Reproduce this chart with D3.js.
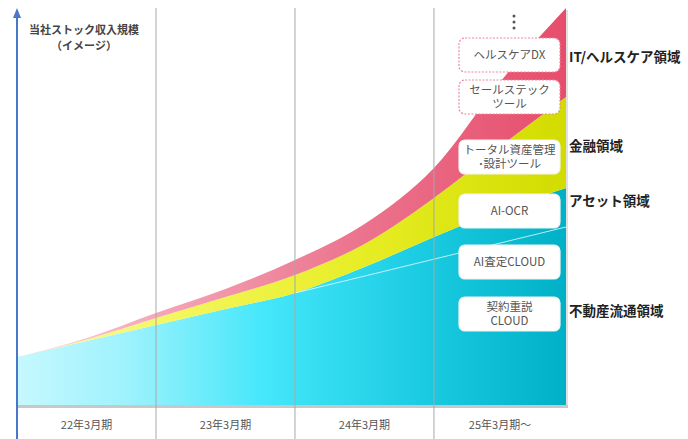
<!DOCTYPE html>
<html lang="ja">
    <head>
        <meta charset="utf-8">
        <title>当社ストック収入規模</title>
        <script type="text/javascript" src="https://cdn.jsdelivr.net/npm/d3@7"></script>
        <style>
            body { margin: 0; background: #fff; }
            text { font-family: "Noto Sans CJK JP", "Noto Sans", sans-serif; }
        </style>
    </head>
    <body>
        <script type="text/javascript">
            // time points (period index), last one = right edge of 25年3月期～
            var periods = ["22年3月期", "23年3月期", "24年3月期", "25年3月期～"];
            var bounds = [0, 1, 2, 3, 3.95];
            var t = [0, 0.5, 1, 1.5, 2, 2.5, 3, 3.5, 3.95];
            // stacked layers, bottom to top (image units)
            var realEstate = [12, 16, 20, 24, 28, 34.5, 42, 49, 54.25];
            var finance    = [0, 0.4, 1.75, 3, 4.5, 5.75, 9.75, 16.25, 22.75];
            var itHealth   = [0, 0.3, 1.25, 2, 3.75, 5, 7.5, 16.5, 22.25];
            // faint trend line inside the bottom layer
            var trendT = [2, 3.95];
            var trendV = [28, 44.5];
            var domains = ["IT/ヘルスケア領域", "金融領域", "アセット領域", "不動産流通領域"];
            var products = ["ヘルスケアDX", "セールステック\nツール", "トータル資産管理\n･設計ツール",
                            "AI-OCR", "AI査定CLOUD", "契約重説\nCLOUD"];

            var w = 688;
            var h = 439;

            var svg = d3.select("body").append("svg")
                .attr("width", w)
                .attr("height", h);

            var x = d3.scaleLinear().domain([0, 3.95]).range([17, 566]);
            var y = d3.scaleLinear().domain([0, 100]).range([405, 5]);

            var rows = t.map(function(d, i) {
                return { t: d, re: realEstate[i], fin: finance[i], it: itHealth[i] };
            });
            var stack = d3.stack().keys(["re", "fin", "it"]);
            var layers = stack(rows);

            // gradients
            var defs = svg.append("defs");
            var grads = {
                re:  [["0%", "#c6f8fe"], ["20%", "#9ef2fd"], ["45%", "#45e7fa"], ["72%", "#1dcde3"], ["100%", "#00b0c6"]],
                fin: [["0%", "#f8fbb0"], ["30%", "#f3f65a"], ["65%", "#e6ec22"], ["100%", "#d2dc00"]],
                it:  [["0%", "#fad0da"], ["30%", "#f3a0b2"], ["60%", "#ec7690"], ["100%", "#e64d6b"]]
            };
            Object.keys(grads).forEach(function(k) {
                var g = defs.append("linearGradient")
                    .attr("id", "g-" + k)
                    .attr("gradientUnits", "userSpaceOnUse")
                    .attr("x1", x(0)).attr("x2", x(3.95))
                    .attr("y1", 0).attr("y2", 0);
                grads[k].forEach(function(s) {
                    g.append("stop").attr("offset", s[0]).attr("stop-color", s[1]);
                });
            });

            // shadow under the area
            svg.append("rect")
                .attr("x", x(0))
                .attr("y", y(0))
                .attr("width", x(3.95) - x(0) + 2)
                .attr("height", 3)
                .attr("fill", "#c8c8c8");
            svg.append("rect")
                .attr("x", x(3.95))
                .attr("y", 10)
                .attr("width", 2)
                .attr("height", y(0) - 10)
                .attr("fill", "#e0e0e0");

            var area = d3.area()
                .x(function(d) { return x(d.data.t); })
                .y0(function(d) { return y(d[0]); })
                .y1(function(d) { return y(d[1]); })
                .curve(d3.curveMonotoneX);

            svg.selectAll("path.layer")
               .data(layers)
               .enter()
               .append("path")
               .attr("class", "layer")
               .attr("d", area)
               .attr("fill", function(d) { return "url(#g-" + d.key + ")"; });

            // trend line
            svg.append("line")
                .attr("x1", x(trendT[0])).attr("y1", y(trendV[0]))
                .attr("x2", x(trendT[1])).attr("y2", y(trendV[1]))
                .attr("stroke", "#e8fcff")
                .attr("stroke-width", 1)
                .attr("opacity", 0.8);

            // vertical period lines
            svg.selectAll("line.grid")
               .data(bounds.slice(1, 4))
               .enter()
               .append("line")
               .attr("class", "grid")
               .attr("x1", function(d) { return x(d); })
               .attr("x2", function(d) { return x(d); })
               .attr("y1", 8)
               .attr("y2", h)
               .attr("stroke", "#a8a8a8")
               .attr("stroke-width", 1);

            // period labels
            svg.selectAll("text.period")
               .data(periods)
               .enter()
               .append("text")
               .attr("class", "period")
               .text(function(d) { return d; })
               .attr("x", function(d, i) { return x((bounds[i] + bounds[i + 1]) / 2); })
               .attr("y", 429)
               .attr("text-anchor", "middle")
               .attr("font-size", "11px")
               .attr("fill", "#555");

            // y axis arrow
            svg.append("line")
                .attr("x1", 17).attr("x2", 17)
                .attr("y1", 16).attr("y2", h)
                .attr("stroke", "#4a78c8")
                .attr("stroke-width", 2);
            svg.append("path")
                .attr("d", "M17,8 L13,18 L21,18 Z")
                .attr("fill", "#4a78c8");

            svg.append("text")
                .text("当社ストック収入規模")
                .attr("x", 84).attr("y", 34)
                .attr("text-anchor", "middle")
                .attr("font-size", "11px")
                .attr("font-weight", "bold")
                .attr("fill", "#444");
            svg.append("text")
                .text("（イメージ）")
                .attr("x", 84).attr("y", 50)
                .attr("text-anchor", "middle")
                .attr("font-size", "11px")
                .attr("font-weight", "bold")
                .attr("fill", "#444");

            // dots above the product boxes
            svg.selectAll("circle.dot")
               .data([0, 1, 2])
               .enter()
               .append("circle")
               .attr("class", "dot")
               .attr("cx", 514)
               .attr("cy", function(d) { return 16 + d * 6; })
               .attr("r", 1.5)
               .attr("fill", "#555");

            // product boxes
            var boxTop = [38, 80, 140, 194, 245, 297];
            var boxH = 34;
            var boxes = svg.selectAll("g.box")
               .data(products)
               .enter()
               .append("g")
               .attr("class", "box")
               .attr("transform", function(d, i) { return "translate(459," + boxTop[i] + ")"; });
            boxes.append("rect")
               .attr("width", 101)
               .attr("height", boxH)
               .attr("rx", 6)
               .attr("fill", "#fff")
               .attr("stroke", function(d, i) { return i < 2 ? "#f0899e" : "#f4f4f4"; })
               .attr("stroke-width", 1.2)
               .attr("stroke-dasharray", function(d, i) { return i < 2 ? "2,1.5" : null; });
            // one text per box, lines as tspans
            boxes.append("text")
               .attr("text-anchor", "middle")
               .attr("font-size", "11.5px")
               .attr("fill", "#555")
               .each(function(d) {
                   var lines = d.split("\n");
                   var txt = d3.select(this);
                   lines.forEach(function(l, j) {
                       txt.append("tspan")
                          .text(l)
                          .attr("x", 50.5)
                          .attr("y", 17 + (j - (lines.length - 1) / 2) * 14.5 + 4);
                   });
               });

            // domain labels at the right
            var domainY = [62, 151, 206, 316];
            svg.selectAll("text.domain")
               .data(domains)
               .enter()
               .append("text")
               .attr("class", "domain")
               .text(function(d) { return d; })
               .attr("x", 569)
               .attr("y", function(d, i) { return domainY[i]; })
               .attr("font-size", "13.5px")
               .attr("font-weight", "bold")
               .attr("fill", "#222");
        </script>
    </body>
</html>
